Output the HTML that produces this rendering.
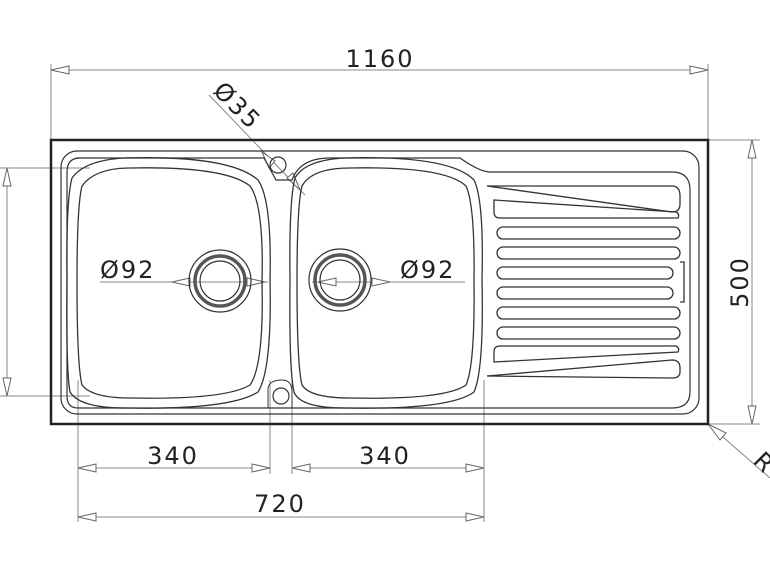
<!DOCTYPE html>
<html><head><meta charset="utf-8"><style>
html,body{margin:0;padding:0;background:#fff;}
svg{display:block;}
text{font-family:"DejaVu Sans","Liberation Sans",sans-serif;fill:#222;}
</style></head><body>
<svg width="770" height="578" viewBox="0 0 770 578" xmlns="http://www.w3.org/2000/svg">
<g fill="none" stroke="#888" stroke-width="1">
  <line x1="51" y1="64" x2="51" y2="140"/>
  <line x1="708" y1="64" x2="708" y2="140"/>
  <line x1="51" y1="70" x2="708" y2="70"/>
  <line x1="708" y1="140" x2="760" y2="140"/>
  <line x1="708" y1="424" x2="760" y2="424"/>
  <line x1="752" y1="140" x2="752" y2="424"/>
  <line x1="0" y1="168" x2="90" y2="168"/>
  <line x1="0" y1="396" x2="90" y2="396"/>
  <line x1="7" y1="168" x2="7" y2="396"/>
  <line x1="78" y1="380" x2="78" y2="522"/>
  <line x1="270" y1="380" x2="270" y2="474"/>
  <line x1="292" y1="380" x2="292" y2="474"/>
  <line x1="484" y1="380" x2="484" y2="522"/>
  <line x1="78" y1="468" x2="270" y2="468"/>
  <line x1="292" y1="468" x2="484" y2="468"/>
  <line x1="78" y1="517" x2="484" y2="517"/>
  <line x1="209" y1="95" x2="305" y2="195"/>
  <line x1="100" y1="282" x2="268" y2="282"/>
  <line x1="312" y1="282" x2="465" y2="282"/>
  <line x1="708" y1="424" x2="770" y2="478"/>
</g>
<g fill="#fff" stroke="#666" stroke-width="1">
  <polygon points="51,70 69,66 69,74"/>
  <polygon points="708,70 690,66 690,74"/>
  <polygon points="752,140 748,158 756,158"/>
  <polygon points="752,424 748,406 756,406"/>
  <polygon points="7,168 3,186 11,186"/>
  <polygon points="7,396 3,378 11,378"/>
  <polygon points="78,468 96,464 96,472"/>
  <polygon points="270,468 252,464 252,472"/>
  <polygon points="292,468 310,464 310,472"/>
  <polygon points="484,468 466,464 466,472"/>
  <polygon points="78,517 96,513 96,521"/>
  <polygon points="484,517 466,513 466,521"/>
  <polygon points="172,282 190,278 190,286"/>
  <polygon points="265,282 247,278 247,286"/>
  <polygon points="318,282 336,278 336,286"/>
  <polygon points="390,282 372,278 372,286"/>
  <polygon points="262,152 269,168 275,161"/>
  <polygon points="300,190 287,178 293,173"/>
  <polygon points="708,424 720,440 726,433"/>
</g>
<g fill="none" stroke="#333">
  <rect x="51" y="140" width="657" height="284" stroke-width="2.5" stroke="#222"/>
  <rect x="61" y="151" width="638" height="263" rx="16" stroke-width="1.2"/>
  <path d="M76,158 H264 L276,180 H292 Q300,158 330,158 H460 Q480,172 490,172 H672 Q690,172 690,190 V392 Q690,408 672,408 H78 Q67,408 67,396 V172 Q67,158 80,158" stroke-width="1.2"/>
  <path d="M125,158 Q230,155 258,180 Q272,200 270,280 Q272,370 258,392 Q230,410 125,408 Q80,408 70,392 Q66,370 67,280 Q66,200 72,178 Q85,160 125,158Z" stroke-width="1.3"/>
  <path d="M130,168 Q225,166 250,186 Q264,205 262,282 Q264,365 250,385 Q225,400 130,398 Q92,398 82,385 Q77,365 77,282 Q77,205 82,186 Q95,168 130,168Z" stroke-width="1.3"/>
  <path d="M345,158 Q450,155 474,180 Q484,200 482,280 Q484,370 474,392 Q450,410 345,408 Q300,408 294,392 Q289,370 290,280 Q289,200 295,178 Q305,160 345,158Z" stroke-width="1.3"/>
  <path d="M350,168 Q445,166 466,186 Q475,205 474,282 Q475,365 466,385 Q445,400 350,398 Q310,398 302,385 Q297,365 297,282 Q297,205 302,186 Q312,168 350,168Z" stroke-width="1.3"/>
  <circle cx="220" cy="281" r="31" stroke-width="1.2"/>
  <circle cx="220" cy="281" r="25" stroke-width="3.5" stroke="#555"/>
  <circle cx="220" cy="281" r="20" stroke-width="1.2"/>
  <circle cx="340" cy="280" r="31" stroke-width="1.2"/>
  <circle cx="340" cy="280" r="25" stroke-width="3.5" stroke="#555"/>
  <circle cx="340" cy="280" r="20" stroke-width="1.2"/>
  <circle cx="278" cy="165" r="8" stroke-width="1.2"/>
  <path d="M268,408 V390 Q268,380 282,380 Q292,380 292,392 V408" stroke-width="1"/>
  <circle cx="281" cy="396" r="8" stroke-width="1.2"/>
  <g stroke-width="1.3">
    <path d="M487,186 H672 Q680,186 680,196 V204 Q680,212 672,212 Z"/>
    <path d="M494,200 L676,212 Q680,214 678,218 L500,218 Q494,218 494,212 Z"/>
    <rect x="497" y="227" width="183" height="12" rx="6"/>
    <rect x="497" y="247" width="183" height="12" rx="6"/>
    <rect x="497" y="267" width="176" height="12" rx="6"/>
    <rect x="497" y="287" width="176" height="12" rx="6"/>
    <rect x="497" y="307" width="183" height="12" rx="6"/>
    <rect x="497" y="327" width="183" height="12" rx="6"/>
    <path d="M500,346 H676 Q680,348 678,352 L494,362 V352 Q494,346 500,346 Z"/>
    <path d="M487,376 L672,360 Q680,360 680,368 V372 Q680,378 672,378 Z"/>
    <path d="M680,262 H684 V302 H680"/>
  </g>
</g>
<text x="380" y="67" font-size="24" text-anchor="middle" letter-spacing="2">1160</text>
<text x="173" y="464" font-size="24" text-anchor="middle" letter-spacing="2">340</text>
<text x="385" y="464" font-size="24" text-anchor="middle" letter-spacing="2">340</text>
<text x="280" y="512" font-size="24" text-anchor="middle" letter-spacing="2">720</text>
<text x="100" y="278" font-size="24" letter-spacing="2">Ø92</text>
<text x="400" y="278" font-size="24" letter-spacing="2">Ø92</text>
<text transform="translate(748,282) rotate(-90)" font-size="24" text-anchor="middle" letter-spacing="2">500</text>
<text transform="translate(-2,282) rotate(-90)" font-size="24" text-anchor="middle" letter-spacing="2">460</text>
<text transform="translate(212,92) rotate(45)" font-size="24" letter-spacing="2">Ø35</text>
<text transform="translate(752,462) rotate(45)" font-size="24">R</text>
</svg>
</body></html>
